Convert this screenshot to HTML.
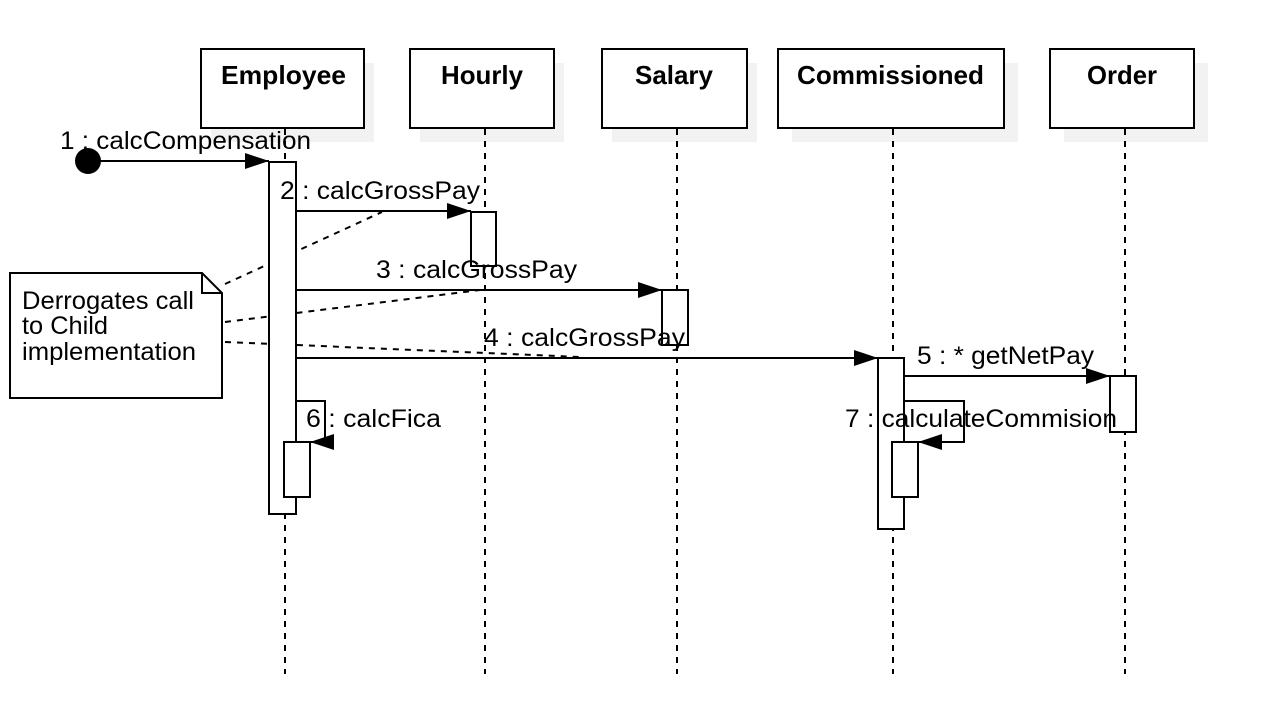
<!DOCTYPE html>
<html><head><style>
html,body{margin:0;padding:0;background:#fff;}
svg{display:block;}
text{font-family:"Liberation Sans",Arial,sans-serif;}
.t{font-size:26px;font-weight:bold;}
.l{font-size:25px;}
</style></head><body>
<svg width="1284" height="724" viewBox="0 0 1284 724" xmlns="http://www.w3.org/2000/svg">
<defs>
<marker id="a" markerWidth="26" markerHeight="18" refX="24" refY="9" orient="auto" markerUnits="userSpaceOnUse">
<path d="M0,1 L24,9 L0,17 Z" fill="#000"/>
</marker>
</defs>
<g fill="#f2f2f2">
<rect x="211" y="63" width="163" height="79"/>
<rect x="420" y="63" width="144" height="79"/>
<rect x="612" y="63" width="145" height="79"/>
<rect x="792" y="63" width="226" height="79"/>
<rect x="1064" y="63" width="144" height="79"/>
</g>
<g fill="#fff" stroke="#000" stroke-width="2">
<rect x="201" y="49" width="163" height="79"/>
<rect x="410" y="49" width="144" height="79"/>
<rect x="602" y="49" width="145" height="79"/>
<rect x="778" y="49" width="226" height="79"/>
<rect x="1050" y="49" width="144" height="79"/>
</g>
<g stroke="#000" stroke-width="2" stroke-dasharray="6,6">
<line x1="285" y1="129" x2="285" y2="674"/>
<line x1="485" y1="129" x2="485" y2="674"/>
<line x1="677" y1="129" x2="677" y2="674"/>
<line x1="893" y1="129" x2="893" y2="674"/>
<line x1="1125" y1="129" x2="1125" y2="674"/>
</g>
<text class="t" x="221" y="84" textLength="125" lengthAdjust="spacingAndGlyphs">Employee</text>
<text class="t" x="441" y="84" textLength="82" lengthAdjust="spacingAndGlyphs">Hourly</text>
<text class="t" x="635" y="84" textLength="78" lengthAdjust="spacingAndGlyphs">Salary</text>
<text class="t" x="797" y="84" textLength="187" lengthAdjust="spacingAndGlyphs">Commissioned</text>
<text class="t" x="1087" y="84" textLength="70" lengthAdjust="spacingAndGlyphs">Order</text>
<path d="M10,273 L202,273 L222,293 L222,398 L10,398 Z" fill="#fff" stroke="#000" stroke-width="2"/>
<path d="M202,273 L202,293 L222,293" fill="none" stroke="#000" stroke-width="2"/>
<text class="l" x="22" y="309" textLength="172" lengthAdjust="spacingAndGlyphs">Derrogates call</text>
<text class="l" x="22" y="334" textLength="86" lengthAdjust="spacingAndGlyphs">to Child</text>
<text class="l" x="22" y="360" textLength="174" lengthAdjust="spacingAndGlyphs">implementation</text>
<g stroke="#000" stroke-width="2" stroke-dasharray="6,6" fill="none">
<line x1="225" y1="284" x2="382" y2="212"/>
<line x1="225" y1="322" x2="480" y2="290"/>
<line x1="225" y1="342" x2="580" y2="357"/>
</g>
<g fill="#fff" stroke="#000" stroke-width="2">
<rect x="269" y="162" width="27" height="352"/>
<rect x="284" y="442" width="26" height="55"/>
<rect x="471" y="212" width="25" height="54"/>
<rect x="662" y="290" width="26" height="55"/>
<rect x="878" y="358" width="26" height="171"/>
<rect x="892" y="442" width="26" height="55"/>
<rect x="1110" y="376" width="26" height="56"/>
</g>
<circle cx="88" cy="161" r="13" fill="#000"/>
<g stroke="#000" stroke-width="2" fill="none" marker-end="url(#a)">
<line x1="88" y1="161" x2="269" y2="161"/>
<line x1="296" y1="211" x2="471" y2="211"/>
<line x1="296" y1="290" x2="662" y2="290"/>
<line x1="296" y1="358" x2="878" y2="358"/>
<line x1="904" y1="376" x2="1110" y2="376"/>
<polyline points="296,401 325,401 325,442 310,442"/>
<polyline points="904,401 964,401 964,442 918,442"/>
</g>
<text class="l" x="60" y="149" textLength="251" lengthAdjust="spacingAndGlyphs">1 : calcCompensation</text>
<text class="l" x="280" y="199" textLength="200" lengthAdjust="spacingAndGlyphs">2 : calcGrossPay</text>
<text class="l" x="376" y="278" textLength="201" lengthAdjust="spacingAndGlyphs">3 : calcGrossPay</text>
<text class="l" x="484" y="346" textLength="201" lengthAdjust="spacingAndGlyphs">4 : calcGrossPay</text>
<text class="l" x="917" y="364" textLength="177" lengthAdjust="spacingAndGlyphs">5 : * getNetPay</text>
<text class="l" x="306" y="427" textLength="135" lengthAdjust="spacingAndGlyphs">6 : calcFica</text>
<text class="l" x="845" y="427" textLength="272" lengthAdjust="spacingAndGlyphs">7 : calculateCommision</text>
</svg>
</body></html>
